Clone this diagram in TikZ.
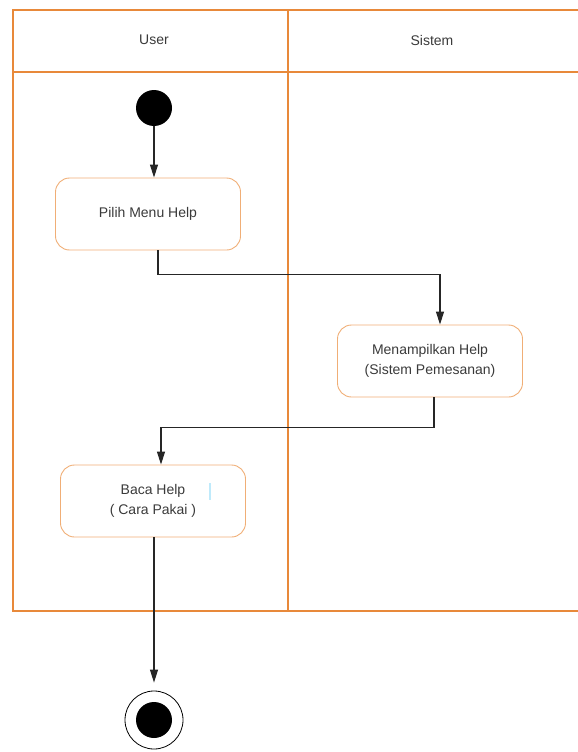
\documentclass[tikz,border=0pt]{standalone}
\usepackage{fontspec}
\setmainfont{Liberation Sans}
\usepackage{tikz}
\usetikzlibrary{shapes,arrows.meta,positioning}
\definecolor{laneorange}{HTML}{E8893A}
\definecolor{boxorange}{HTML}{F0AE76}
\definecolor{textgray}{HTML}{3A3A3A}

\begin{document}
\begin{tikzpicture}[x=1pt, y=-1pt,
            lane/.style={draw=laneorange, line width=2pt},
            lanetitle/.style={font=\fontsize{14}{16}\selectfont, text=textgray},
            activity/.style={rectangle, rounded corners=14pt, draw=boxorange, line width=0.9pt, minimum width=185pt, minimum height=72pt, align=center, font=\fontsize{14}{20}\selectfont, text=textgray},
            flow/.style={-{Triangle[length=13pt,width=8pt]}, line width=1.1pt, draw=black!85},
            startdot/.style={circle, fill=black, minimum size=36pt, inner sep=0pt}
        ]

        \useasboundingbox (0,0) rectangle (578,752);
        \clip (0,0) rectangle (578,752);

        % swimlanes
        \draw[lane] (13,10) rectangle (600,611);
        \draw[lane] (13,72) -- (600,72);
        \draw[lane] (288,10) -- (288,611);

        \node[lanetitle] (user) at (154,40) {User};
        \node[lanetitle] (sistem) at (432,40) {Sistem};

        \node[startdot] (start) at (154,108) {};
        \node[activity] (pilih) at (148,214) {Pilih Menu Help};
        \node[activity] (tampil) at (430,361) {Menampilkan Help\\(Sistem Pemesanan)};
        \node[activity] (baca) at (153,501) {Baca Help\\( Cara Pakai )};
        \node[circle, draw=black, line width=0.8pt, minimum size=58pt, inner sep=0pt] (finish) at (154,720) {};
        \node[startdot] (finishdot) at (finish) {};

        \draw[flow] (start) -- (start |- pilih.north);
        \draw[flow] ([xshift=10pt]pilih.south) -- ++(0,24) -| ([xshift=10pt]tampil.north);
        \draw[flow] ([xshift=4pt]tampil.south) -- ++(0,30) -| ([xshift=8pt]baca.north);
        \draw[flow, shorten >=8pt] (baca.south -| finish) -- (finish.north);

        \draw[cyan!25, line width=2pt] (210,483) -- (210,500);

    \end{tikzpicture}
\end{document}
